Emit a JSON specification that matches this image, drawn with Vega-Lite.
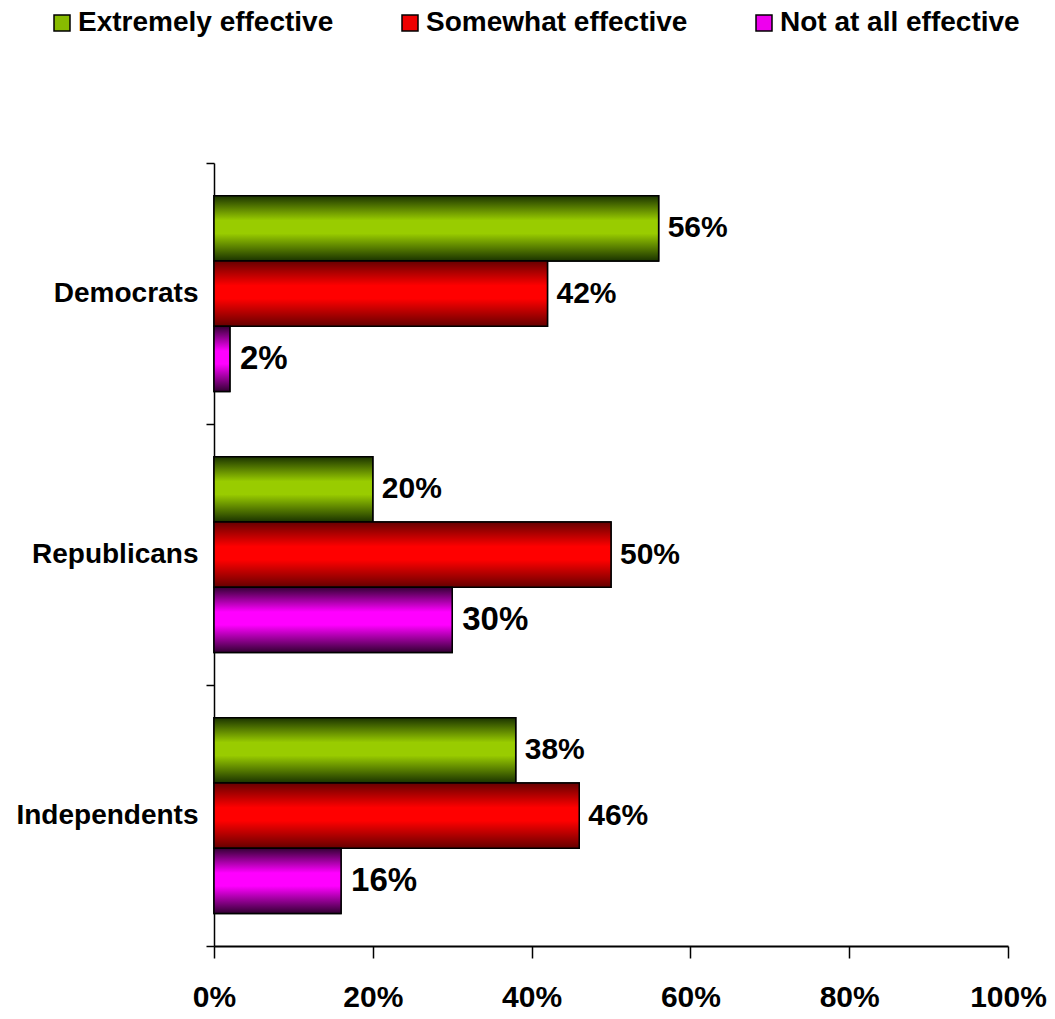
{
  "$schema": "https://vega.github.io/schema/vega-lite/v6.json",
  "width": 794,
  "height": 783,
  "autosize": {"type": "none"},
  "padding": {"left": 214, "top": 163, "right": 47, "bottom": 73},
  "background": "white",
  "config": {
    "font": "Liberation Sans",
    "view": {"stroke": null}
  },
  "data": {
    "values": [
      {"group": "Democrats", "series": "Extremely effective", "value": 0.56},
      {"group": "Democrats", "series": "Somewhat effective", "value": 0.42},
      {"group": "Democrats", "series": "Not at all effective", "value": 0.02},
      {"group": "Republicans", "series": "Extremely effective", "value": 0.20},
      {"group": "Republicans", "series": "Somewhat effective", "value": 0.50},
      {"group": "Republicans", "series": "Not at all effective", "value": 0.30},
      {"group": "Independents", "series": "Extremely effective", "value": 0.38},
      {"group": "Independents", "series": "Somewhat effective", "value": 0.46},
      {"group": "Independents", "series": "Not at all effective", "value": 0.16}
    ]
  },
  "encoding": {
    "y": {
      "field": "group",
      "type": "nominal",
      "sort": ["Democrats", "Republicans", "Independents"],
      "scale": {"paddingInner": 0, "paddingOuter": 0},
      "axis": {
        "title": null,
        "labelFont": "Liberation Sans",
        "labelFontSize": 28,
        "labelFontWeight": "bold",
        "labelColor": "black",
        "labelPadding": 8,
        "labelLimit": 300,
        "domainColor": "black",
        "domainWidth": 1.5,
        "tickColor": "black",
        "tickWidth": 1.5,
        "tickSize": 8,
        "tickBand": "extent",
        "grid": false
      }
    },
    "yOffset": {
      "field": "series",
      "type": "nominal",
      "sort": ["Extremely effective", "Somewhat effective", "Not at all effective"],
      "scale": {"paddingInner": 0, "paddingOuter": 0.5}
    },
    "x": {
      "field": "value",
      "type": "quantitative",
      "scale": {"domain": [0, 1], "nice": false},
      "axis": {
        "title": null,
        "values": [0, 0.2, 0.4, 0.6, 0.8, 1],
        "format": ".0%",
        "labelFont": "Liberation Sans",
        "labelFontSize": 30,
        "labelFontWeight": "bold",
        "labelColor": "black",
        "labelPadding": 24,
        "labelFlush": false,
        "domainColor": "black",
        "domainWidth": 2,
        "tickColor": "black",
        "tickWidth": 1.5,
        "tickSize": 12,
        "grid": false
      }
    }
  },
  "layer": [
    {
      "mark": {"type": "bar", "stroke": "black", "strokeWidth": 1.5},
      "encoding": {
        "color": {
          "field": "series",
          "type": "nominal",
          "sort": ["Extremely effective", "Somewhat effective", "Not at all effective"],
          "scale": {
            "domain": ["Extremely effective", "Somewhat effective", "Not at all effective"],
            "range": ["#88bb00", "#ee0000", "#ee00ee"]
          },
          "legend": {
            "title": null,
            "orient": "none",
            "legendX": -166,
            "legendY": -154,
            "direction": "horizontal",
            "columns": 3,
            "columnPadding": 62,
            "symbolType": "square",
            "symbolSize": 256,
            "symbolStrokeColor": "black",
            "symbolStrokeWidth": 1.5,
            "symbolOpacity": 1,
            "labelFont": "Liberation Sans",
            "labelFontSize": 28,
            "labelFontWeight": "bold",
            "labelColor": "black",
            "labelLimit": 400,
            "labelOffset": 2
          }
        }
      }
    },
    {
      "transform": [{"filter": "datum.series === 'Extremely effective'"}],
      "mark": {"type": "bar", "stroke": "black", "strokeWidth": 1.5,
        "color": {"gradient": "linear", "x1": 0, "y1": 0, "x2": 0, "y2": 1, "stops": [
          {"offset": 0, "color": "#1a3300"},
          {"offset": 0.38, "color": "#99cc00"},
          {"offset": 0.58, "color": "#99cc00"},
          {"offset": 1, "color": "#1a3300"}]}}
    },
    {
      "transform": [{"filter": "datum.series === 'Somewhat effective'"}],
      "mark": {"type": "bar", "stroke": "black", "strokeWidth": 1.5,
        "color": {"gradient": "linear", "x1": 0, "y1": 0, "x2": 0, "y2": 1, "stops": [
          {"offset": 0, "color": "#660000"},
          {"offset": 0.38, "color": "#ff0000"},
          {"offset": 0.58, "color": "#ff0000"},
          {"offset": 1, "color": "#660000"}]}}
    },
    {
      "transform": [{"filter": "datum.series === 'Not at all effective'"}],
      "mark": {"type": "bar", "stroke": "black", "strokeWidth": 1.5,
        "color": {"gradient": "linear", "x1": 0, "y1": 0, "x2": 0, "y2": 1, "stops": [
          {"offset": 0, "color": "#330033"},
          {"offset": 0.38, "color": "#ff00ff"},
          {"offset": 0.58, "color": "#ff00ff"},
          {"offset": 1, "color": "#330033"}]}}
    },
    {
      "transform": [{"filter": "datum.series !== 'Not at all effective'"}],
      "mark": {"type": "text", "align": "left", "baseline": "middle", "dx": 9, "fontSize": 30, "fontWeight": "bold", "font": "Liberation Sans", "color": "black"},
      "encoding": {
        "text": {"field": "value", "type": "quantitative", "format": ".0%"}
      }
    },
    {
      "transform": [{"filter": "datum.series === 'Not at all effective'"}],
      "mark": {"type": "text", "align": "left", "baseline": "middle", "dx": 10, "fontSize": 33, "fontWeight": "bold", "font": "Liberation Sans", "color": "black"},
      "encoding": {
        "text": {"field": "value", "type": "quantitative", "format": ".0%"}
      }
    }
  ]
}
